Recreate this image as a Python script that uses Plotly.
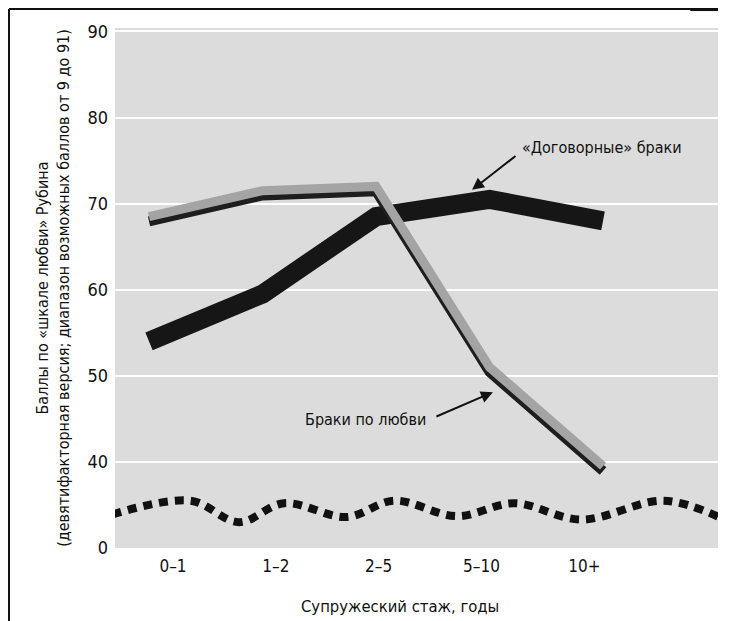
import plotly.graph_objects as go

# ---- data ----
periods = ["0\u20131", "1\u20132", "2\u20135", "5\u201310", "10+"]
love_scores = [68.5, 71.5, 72, 51, 39.5]        # Браки по любви
arranged_scores = [54, 59.5, 68.5, 70.5, 68]    # «Договорные» браки
y_tick_vals = [30, 40, 50, 60, 70, 80, 90]
y_tick_text = ["0", "40", "50", "60", "70", "80", "90"]
# decorative axis-break wave (label-axis units, value units)
break_x = [-0.59, 0.17, 0.64, 1.08, 1.69, 2.15, 2.76, 3.32, 3.97, 4.77, 5.31]
break_y = [33.9, 35.5, 33.0, 35.2, 33.6, 35.5, 33.7, 35.2, 33.3, 35.5, 33.6]

FONT = "DejaVu Sans Condensed, Liberation Sans Narrow, sans-serif"
idx = list(range(len(periods)))

fig = go.Figure()

# axis-break dotted wave
fig.add_trace(go.Scatter(x=break_x, y=break_y, xaxis="x", yaxis="y", mode="lines",
                         line=dict(color="#111111", width=8, dash="9px,7px", shape="spline", smoothing=1.0),
                         hoverinfo="skip", showlegend=False))
# arranged marriages (black thick)
fig.add_trace(go.Scatter(x=idx, y=arranged_scores, xaxis="x2", yaxis="y", mode="lines",
                         line=dict(color="#161616", width=19), showlegend=False,
                         name="«Договорные» браки"))
# love marriages shadow (same data on a slightly shifted overlay axis)
fig.add_trace(go.Scatter(x=idx, y=love_scores, xaxis="x2", yaxis="y3", mode="lines",
                         line=dict(color="#1e1e1e", width=10), showlegend=False, hoverinfo="skip"))
# love marriages (gray)
fig.add_trace(go.Scatter(x=idx, y=love_scores, xaxis="x2", yaxis="y4", mode="lines",
                         line=dict(color="#a4a4a4", width=9), showlegend=False,
                         name="Браки по любви"))

y_range = [30, 90.4]
shift = 0.55

fig.update_layout(
    width=722, height=613,
    margin=dict(l=107, r=12, t=20, b=73),
    paper_bgcolor="white",
    plot_bgcolor="#dcdcdc",
    font=dict(family=FONT, color="#111111"),
    xaxis=dict(range=[-0.564, 5.30], tickvals=idx, ticktext=periods, showgrid=False,
               zeroline=False, showline=False, ticks="", tickfont=dict(size=17, family=FONT),
               ticklabelstandoff=6),
    xaxis2=dict(range=[-0.2996, 5.013], overlaying="x", visible=False),
    yaxis=dict(range=y_range, tickvals=y_tick_vals, ticktext=y_tick_text,
               showgrid=True, gridcolor="white", gridwidth=2, zeroline=False, showline=False,
               ticks="", tickfont=dict(size=18, family=FONT), ticklabelstandoff=6,
               title=dict(text="Баллы по «шкале любви» Рубина<br>(девятифакторная версия; диапазон возможных баллов от 9 до 91)",
                          font=dict(size=16, family=FONT), standoff=13)),
    yaxis3=dict(range=[y_range[0] + shift, y_range[1] + shift], overlaying="y", visible=False),
    yaxis4=dict(range=y_range, overlaying="y", visible=False),
    showlegend=False,
    shapes=[
        dict(type="line", xref="paper", yref="paper", x0=-0.1758, x1=-0.1758, y0=1.0365, y1=-0.15,
             line=dict(color="#111111", width=2)),
        dict(type="line", xref="paper", yref="paper", x0=-0.1758, x1=1.0, y0=1.0365, y1=1.0365,
             line=dict(color="#111111", width=2)),
        dict(type="line", xref="paper", yref="paper", x0=0.954, x1=1.0, y0=1.0355, y1=1.0355,
             line=dict(color="#111111", width=3)),
        dict(type="line", xref="paper", yref="paper", x0=1.0166, x1=1.0166, y0=1.0355, y1=0.977,
             line=dict(color="#888888", width=2)),
    ],
    annotations=[
        dict(text="Супружеский стаж, годы", x=0.473, y=-0.112, xref="paper", yref="paper",
             xanchor="center", yanchor="middle",
             showarrow=False, font=dict(size=16.5, family=FONT)),
        dict(text="«Договорные» браки", x=3.99, y=76.5, xref="x2", yref="y", showarrow=False,
             font=dict(size=16, family=FONT)),
        dict(text="", x=2.846, y=71.6, xref="x2", yref="y", showarrow=True, ax=45, ay=-35,
             arrowhead=2, arrowsize=1.2, arrowwidth=2, arrowcolor="#111111"),
        dict(text="Браки по любви", x=1.903, y=44.9, xref="x2", yref="y", showarrow=False,
             font=dict(size=16, family=FONT)),
        dict(text="", x=3.03, y=48.1, xref="x2", yref="y", showarrow=True, ax=-58, ay=25,
             arrowhead=2, arrowsize=1.2, arrowwidth=2, arrowcolor="#111111"),
    ],
)

fig.write_html("out.html")
